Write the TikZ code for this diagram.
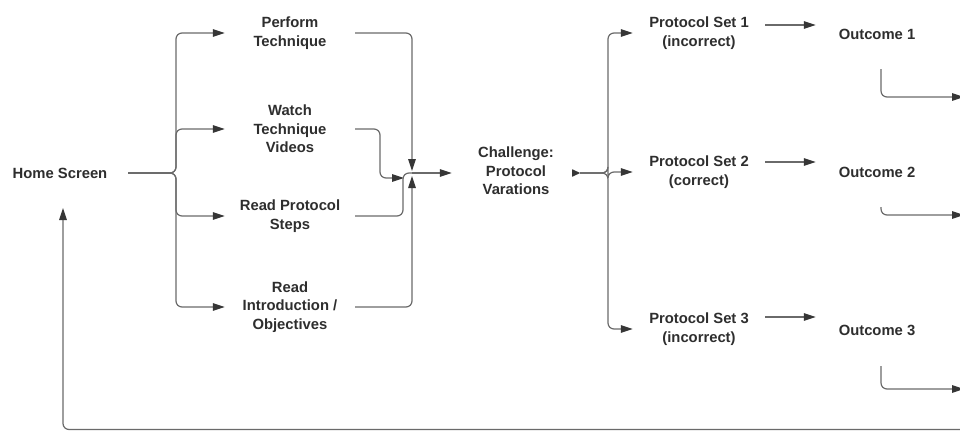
\documentclass[tikz,border=0pt]{standalone}
\usepackage{fontspec}
\setmainfont{Liberation Sans}
\usetikzlibrary{arrows.meta,calc}
\definecolor{txt}{HTML}{2E2E2E}
\definecolor{wirec}{HTML}{6A6A6A}
\definecolor{tipc}{HTML}{363636}
\begin{document}
\begin{tikzpicture}[x=1pt,y=-1pt,
  lbl/.style={font=\fontsize{14.8}{18.5}\selectfont\bfseries, text=txt, align=center, inner sep=0pt},
  wire/.style={draw=wirec, line width=1.2pt, rounded corners=6pt},
  arr/.style={wire, -{Triangle[length=12pt,width=7.5pt,color=tipc]}},
]
\useasboundingbox[fill=white] (0,0) rectangle (960,431);

% nodes
\node[lbl, minimum width=136] (home) at (60,173) {Home Screen};
\node[lbl, minimum width=130] (perform) at (290,33) {Perform\\Technique};
\node[lbl, minimum width=130] (watch) at (290,129) {Watch\\Technique\\Videos};
\node[lbl, minimum width=130] (readp) at (290,216) {Read Protocol\\Steps};
\node[lbl, minimum width=130] (readi) at (290,307) {Read\\Introduction /\\Objectives};
\node[lbl, minimum width=128] (chal) at (516,171) {Challenge:\\ Protocol\\Varations};
\node[lbl, minimum width=132] (ps1) at (699,33) {Protocol Set 1\\(incorrect)};
\node[lbl, minimum width=132] (ps2) at (699,172) {Protocol Set 2\\(correct)};
\node[lbl, minimum width=132] (ps3) at (699,329) {Protocol Set 3\\(incorrect)};
\node[lbl, minimum width=122] (out1) at (877,34) {Outcome 1};
\node[lbl, minimum width=122] (out2) at (877,172) {Outcome 2};
\node[lbl, minimum width=122] (out3) at (877,330) {Outcome 3};

% junction points
\coordinate (b1) at (176,173);
\coordinate (mj) at (412,173);
\coordinate (mt) at (412,171);
\coordinate (mb) at (412,176);
\coordinate (wc) at (380,178);
\coordinate (win) at (404,178);
\coordinate (rc) at (403,173);
\coordinate (b2) at (608,173);
\coordinate (cout) at (chal.east |- b2);
\coordinate (e1) at (964,97);
\coordinate (e2) at (964,215);
\coordinate (e3) at (964,389);
\coordinate (rb) at (962,429.5);

% home screen fan-out
\foreach \n in {perform,watch,readp,readi}
  \draw[arr] (home.east) -- (b1) |- (\n.west);

% merge into challenge
\draw[arr] (perform.east) -| (mt);
\draw[arr] (watch.east) -| (wc) -- (win);
\draw[wire] (readp.east) -| (rc) -- (mj);
\draw[arr] (readi.east) -| (mb);
\draw[arr] (mj) -- (mj -| chal.west);

% challenge fan-out
\fill[tipc] (cout) -- ++(-8,-3.75) -- ++(0,7.5) -- cycle;
\foreach \n in {ps1,ps2,ps3}
  \draw[arr] (cout) -- (b2) |- (\n.west);

% protocol sets to outcomes
\foreach \p/\o/\s in {ps1/out1/8,ps2/out2/10,ps3/out3/12}
  \draw[arr] ([yshift=\s pt]\p.east) -- ([yshift=\s pt]\p.east -| \o.west);

% outcome exits
\draw[arr] ($(out1.center)+(4,35)$) |- (e1);
\draw[arr] ($(out2.center)+(4,35)$) |- (e2);
\draw[arr] ($(out3.center)+(4,36)$) |- (e3);

% return loop to home screen
\draw[arr] (rb) -| ([xshift=3pt,yshift=-35pt]home.center);
\end{tikzpicture}
\end{document}
